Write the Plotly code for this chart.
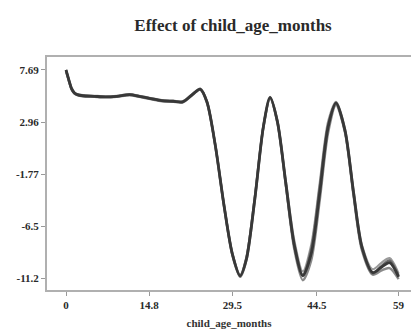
import plotly.graph_objects as go

# Data
x_months = [0, 0.5, 1, 1.5, 2, 3, 5, 7, 9, 11.3, 13, 15, 17, 19, 20.7, 22.5, 23.8,
            25, 26.5, 28, 29.5, 30.9, 32, 33.5, 35, 36.2, 37.5, 39, 40.5, 42,
            43.5, 45, 46.5, 47.9, 49.5, 51, 52.5, 54.4, 56, 57.4, 59]
y_main = [7.69, 6.8, 6.0, 5.6, 5.45, 5.35, 5.3, 5.25, 5.3, 5.45, 5.3, 5.1, 4.9, 4.85, 4.8, 5.5, 5.96,
          4.8, 0.8, -4.5, -9.0, -11.0, -9.5, -4.0, 2.5, 5.2, 3.0, -2.6, -8.2, -11.0,
          -9.0, -3.5, 2.5, 4.7, 2.2, -3.4, -8.4, -10.7, -10.2, -9.8, -11.1]
y_var1 = [7.6, 6.7, 5.9, 5.55, 5.4, 5.3, 5.25, 5.2, 5.25, 5.4, 5.25, 5.05, 4.85, 4.8, 4.75, 5.45, 5.9,
          4.7, 0.7, -4.6, -9.1, -11.1, -9.6, -4.1, 2.4, 5.1, 2.9, -2.8, -8.6, -11.4,
          -9.6, -4.2, 2.0, 4.5, 2.0, -3.7, -8.7, -10.9, -10.5, -10.3, -11.3]
y_var2 = [7.7, 6.85, 6.05, 5.65, 5.5, 5.4, 5.35, 5.3, 5.35, 5.5, 5.35, 5.15, 4.95, 4.9, 4.85, 5.55, 6.0,
          4.85, 0.9, -4.4, -8.9, -10.9, -9.3, -3.8, 2.6, 5.25, 3.1, -2.4, -7.8, -10.6,
          -8.2, -2.6, 3.0, 4.8, 2.3, -3.2, -8.2, -10.4, -9.8, -9.4, -10.8]
y_var3 = [7.65, 6.75, 5.95, 5.6, 5.45, 5.35, 5.3, 5.25, 5.3, 5.45, 5.3, 5.1, 4.9, 4.85, 4.8, 5.5, 5.95,
          4.8, 0.8, -4.5, -9.0, -11.0, -9.4, -3.9, 2.5, 5.15, 3.0, -2.7, -8.3, -10.9,
          -8.6, -3.0, 2.7, 4.65, 2.1, -3.5, -8.5, -10.8, -10.1, -9.6, -11.0]

x_tick_vals = [0, 14.75, 29.5, 44.5, 59]
x_tick_text = ["0", "14.8", "29.5", "44.5", "59"]
y_tick_vals = [7.69, 2.96, -1.77, -6.5, -11.2]
y_tick_text = ["7.69", "2.96", "-1.77", "-6.5", "-11.2"]

fig = go.Figure()
for ys, col, w in [(y_var1, "#8a8a8a", 2.4), (y_var2, "#9a9a9a", 2.2),
                   (y_var3, "#6a6a6a", 2.4), (y_main, "#383838", 2.8)]:
    fig.add_trace(go.Scatter(x=x_months, y=ys, mode="lines",
                             line=dict(color=col, width=w, shape="spline", smoothing=0.8),
                             showlegend=False, hoverinfo="skip"))

serif = "Liberation Serif"
fig.update_layout(
    width=411, height=336,
    margin=dict(l=47, r=0, t=57, b=46, autoexpand=False),
    paper_bgcolor="white", plot_bgcolor="white",
    title=dict(text="<b>Effect of child_age_months</b>", x=0.567, xanchor="center",
               y=0.925, yanchor="middle", automargin=False,
               font=dict(family=serif, size=17, color="#2a2a2a")),
    xaxis=dict(range=[-3.37, 61.2], tickmode="array", tickvals=x_tick_vals, ticktext=x_tick_text,
               automargin=False,
               showgrid=False, zeroline=False, showline=True, mirror=True,
               linecolor="#b0b0b0", linewidth=2, ticks="outside", ticklen=4,
               tickcolor="#999", tickfont=dict(family=serif, size=11, color="#2a2a2a", weight="bold"),
               title=dict(text="<b>child_age_months</b>", standoff=9,
                          font=dict(family=serif, size=11, color="#333"))),
    yaxis=dict(range=[-12.29, 8.87], tickmode="array", tickvals=y_tick_vals, ticktext=y_tick_text,
               automargin=False,
               showgrid=False, zeroline=False, showline=True, mirror=False,
               linecolor="#b0b0b0", linewidth=2, ticks="outside", ticklen=4,
               tickcolor="#999", tickfont=dict(family=serif, size=11, color="#2a2a2a", weight="bold")),
)
fig.write_html("out.html", config={"displayModeBar": False},
               post_script="document.body.style.margin='0';document.body.style.overflow='hidden';")
